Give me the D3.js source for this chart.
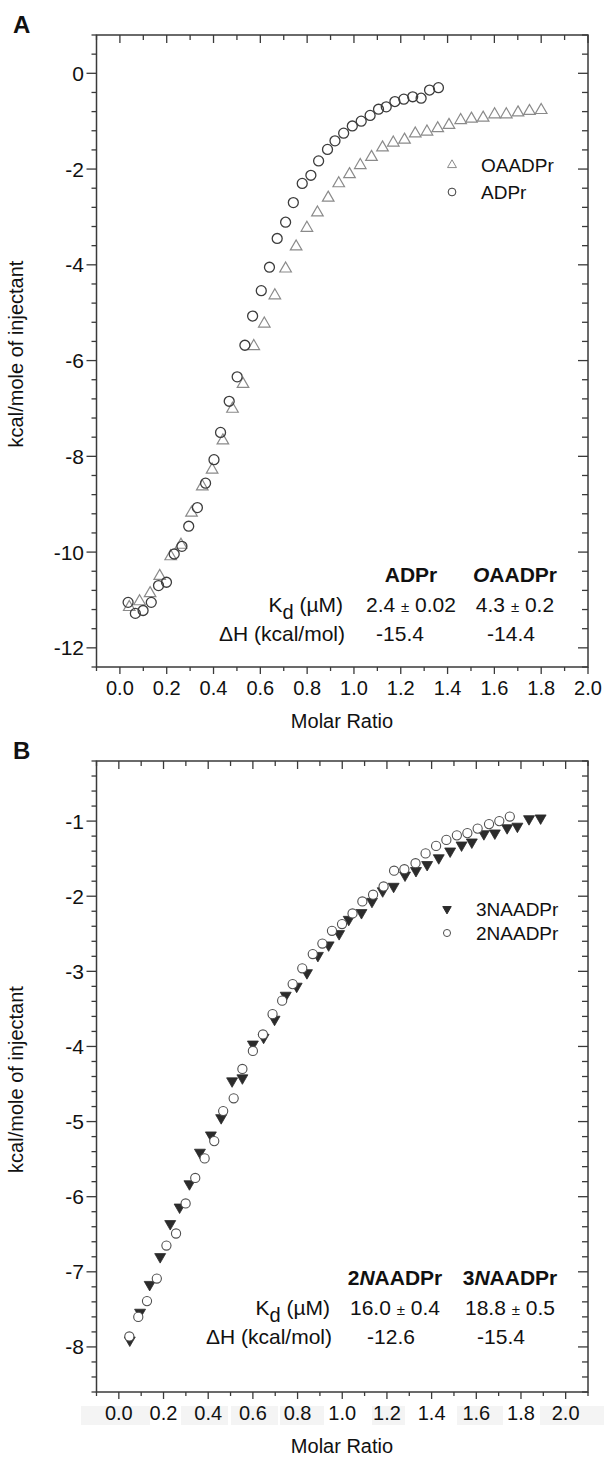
<!DOCTYPE html>
<html>
<head>
<meta charset="utf-8">
<script src="https://cdn.jsdelivr.net/npm/d3@7"></script>
<style>
body { margin: 0; background: #fff; }
text { font-family: "Liberation Sans", Arial, sans-serif; fill: #111; }
</style>
</head>
<body>
<div id="chart"></div>
<script>
// panel A, ADPr (circles) and OAADPr (triangles): [molar ratio, kcal/mole]
const adpr = [
	[0.035, -11.05], [0.066, -11.28], [0.099, -11.22], [0.134, -11.05], [0.165, -10.70],
	[0.199, -10.63], [0.232, -10.04], [0.265, -9.88], [0.294, -9.46], [0.331, -9.07],
	[0.366, -8.56], [0.402, -8.07], [0.430, -7.50], [0.467, -6.85], [0.501, -6.34],
	[0.534, -5.68], [0.567, -5.07], [0.604, -4.54], [0.639, -4.05], [0.672, -3.45],
	[0.708, -3.11], [0.741, -2.70], [0.779, -2.30], [0.816, -2.13], [0.849, -1.83],
	[0.887, -1.59], [0.919, -1.41], [0.956, -1.25], [0.993, -1.10], [1.031, -1.00],
	[1.069, -0.88], [1.105, -0.75], [1.138, -0.70], [1.175, -0.59], [1.213, -0.54],
	[1.251, -0.49], [1.287, -0.52], [1.323, -0.35], [1.361, -0.30]
];
const oaadpr = [
	[0.040, -11.15], [0.084, -11.03], [0.129, -10.86], [0.170, -10.50], [0.217, -10.09],
	[0.261, -9.85], [0.306, -9.18], [0.352, -8.63], [0.394, -8.28], [0.440, -7.67],
	[0.481, -7.01], [0.526, -6.49], [0.572, -5.70], [0.617, -5.23], [0.662, -4.64],
	[0.708, -4.08], [0.753, -3.62], [0.799, -3.23], [0.844, -2.91], [0.890, -2.60],
	[0.935, -2.30], [0.981, -2.11], [1.027, -1.92], [1.075, -1.75], [1.122, -1.55],
	[1.168, -1.45], [1.216, -1.39], [1.262, -1.26], [1.312, -1.22], [1.358, -1.15],
	[1.406, -1.08], [1.456, -0.98], [1.502, -0.95], [1.552, -0.93], [1.601, -0.86],
	[1.651, -0.86], [1.701, -0.82], [1.750, -0.79], [1.800, -0.77]
];

// panel B, 3NAADPr (filled down triangles) and 2NAADPr (circles)
const naadpr3 = [
	[0.049, -7.91], [0.095, -7.54], [0.138, -7.17], [0.185, -6.80], [0.230, -6.36],
	[0.272, -6.14], [0.316, -5.83], [0.363, -5.41], [0.412, -5.18], [0.458, -4.95],
	[0.507, -4.46], [0.553, -4.42], [0.600, -3.97], [0.648, -3.88], [0.697, -3.64],
	[0.747, -3.32], [0.796, -3.20], [0.842, -3.02], [0.891, -2.79], [0.939, -2.65],
	[0.986, -2.50], [1.029, -2.31], [1.086, -2.22], [1.133, -2.07], [1.181, -1.93],
	[1.230, -1.87], [1.281, -1.72], [1.330, -1.66], [1.380, -1.58], [1.432, -1.49],
	[1.483, -1.40], [1.534, -1.32], [1.580, -1.28], [1.634, -1.17], [1.683, -1.16],
	[1.738, -1.09], [1.784, -1.07], [1.836, -0.97], [1.888, -0.96]
];
const naadpr2 = [
	[0.047, -7.86], [0.087, -7.60], [0.126, -7.39], [0.170, -7.09], [0.213, -6.65],
	[0.256, -6.49], [0.299, -6.09], [0.342, -5.75], [0.384, -5.49], [0.427, -5.26],
	[0.467, -4.86], [0.514, -4.69], [0.553, -4.30], [0.600, -4.06], [0.645, -3.84],
	[0.688, -3.57], [0.731, -3.39], [0.778, -3.17], [0.821, -2.96], [0.868, -2.77],
	[0.911, -2.63], [0.954, -2.46], [0.999, -2.37], [1.046, -2.23], [1.090, -2.07],
	[1.138, -1.98], [1.185, -1.87], [1.232, -1.66], [1.278, -1.64], [1.328, -1.56],
	[1.373, -1.43], [1.420, -1.33], [1.466, -1.25], [1.513, -1.19], [1.560, -1.16],
	[1.606, -1.10], [1.657, -1.04], [1.703, -1.00], [1.750, -0.94]
];

const molarTicks = [0, 0.2, 0.4, 0.6, 0.8, 1.0, 1.2, 1.4, 1.6, 1.8, 2.0];
const yTicksA = [0, -2, -4, -6, -8, -10, -12];
const yTicksB = [-1, -2, -3, -4, -5, -6, -7, -8];

const tableA = {
	heads: [['', 'ADPr'], ['O', 'AADPr']],
	kd: ['2.4', '0.02', '4.3', '0.2'],
	dh: ['-15.4', '-14.4']
};
const tableB = {
	heads: [['2', 'N', 'AADPr'], ['3', 'N', 'AADPr']],
	kd: ['16.0', '0.4', '18.8', '0.5'],
	dh: ['-12.6', '-15.4']
};

const svg = d3.select('#chart')
	.append('svg')
	.attr('width', 605)
	.attr('height', 1457)
	.style('background', 'white');

const axisColor = '#3a3a3a';

function steps(lo, hi, step) {
	let n = Math.round((hi - lo) / step);
	return d3.range(n + 1).map(i => +(lo + i * step).toFixed(3));
}

function drawPanel(opt) {
	let x = d3.scaleLinear().domain(opt.xDomain).range([96.5, 588]);
	let y = d3.scaleLinear().domain(opt.yDomain).range([opt.bottom, opt.top]);
	let g = svg.append('g');

	// light scan blocks behind the tick labels (panel B only)
	if (opt.bands) {
		opt.bands.forEach(b => {
			g.append('rect')
				.attr('x', b[0]).attr('y', opt.bottom + 14)
				.attr('width', b[1] - b[0]).attr('height', 19)
				.attr('fill', '#f4f4f4');
		});
	}

	// x ticks, every 0.1, longer at 0.2
	let xt = steps(opt.xDomain[0], opt.xDomain[1], 0.1);
	xt.forEach(v => {
		let major = Math.round(v * 10) % 2 == 0;
		let px = x(v);
		g.append('line')
			.attr('x1', px).attr('x2', px)
			.attr('y1', opt.bottom).attr('y2', opt.bottom + (major ? 7 : 4))
			.attr('stroke', axisColor).attr('stroke-width', 1.3);
		g.append('line')
			.attr('x1', px).attr('x2', px)
			.attr('y1', opt.top).attr('y2', opt.top + (major ? 8 : 5))
			.attr('stroke', axisColor).attr('stroke-width', 1.3);
	});
	molarTicks.forEach(v => {
		g.append('text')
			.attr('x', x(v))
			.attr('y', opt.bottom + 28)
			.attr('text-anchor', 'middle')
			.style('font-size', '20px')
			.text(d3.format('.1f')(v));
	});

	// y ticks
	let yt = steps(opt.yDomain[0], opt.yDomain[1], opt.yMinor);
	yt.forEach(v => {
		let major = opt.yTicks.some(t => Math.abs(t - v) < 1e-6);
		let py = y(v);
		g.append('line')
			.attr('x1', 96.5 - (major ? 10 : 5)).attr('x2', 96.5)
			.attr('y1', py).attr('y2', py)
			.attr('stroke', axisColor).attr('stroke-width', 1.3);
		g.append('line')
			.attr('x1', 588 - (major ? 10 : 6)).attr('x2', 588)
			.attr('y1', py).attr('y2', py)
			.attr('stroke', axisColor).attr('stroke-width', 1.3);
	});
	opt.yTicks.forEach(v => {
		g.append('text')
			.attr('x', 84)
			.attr('y', y(v))
			.attr('dy', '0.36em')
			.attr('text-anchor', 'end')
			.style('font-size', '21px')
			.text(d3.format('d')(v).replace('−', '-'));
	});

	// frame
	g.append('rect')
		.attr('x', 96.5).attr('y', opt.top)
		.attr('width', 588 - 96.5).attr('height', opt.bottom - opt.top)
		.attr('fill', 'none')
		.attr('stroke', axisColor)
		.attr('stroke-width', 1.5);

	// titles
	g.append('text')
		.attr('x', 13).attr('y', opt.top - 2)
		.style('font-size', '24px')
		.style('font-weight', 'bold')
		.text(opt.letter);

	g.append('text')
		.attr('transform', `translate(23,${(opt.top + opt.bottom) / 2 + 3}) rotate(-90)`)
		.attr('text-anchor', 'middle')
		.style('font-size', '20px')
		.text('kcal/mole of injectant');

	g.append('text')
		.attr('x', 342)
		.attr('y', opt.bottom + 61)
		.attr('text-anchor', 'middle')
		.style('font-size', '20px')
		.text('Molar Ratio');

	// series, first one underneath
	opt.series.forEach(s => {
		g.selectAll(null)
			.data(s.data)
			.enter()
			.append('path')
			.attr('d', d3.symbol().type(s.shape).size(s.size))
			.attr('transform', d => `translate(${x(d[0])},${y(d[1])})` + (s.down ? ' rotate(180)' : ''))
			.attr('fill', s.fill)
			.attr('stroke', s.stroke)
			.attr('stroke-width', s.width);

		// legend
		g.append('path')
			.attr('d', d3.symbol().type(s.shape).size(s.size * 0.6))
			.attr('transform', `translate(${opt.legendX},${s.ly})` + (s.down ? ' rotate(180)' : ''))
			.attr('fill', s.fill)
			.attr('stroke', s.stroke)
			.attr('stroke-width', 1);
		g.append('text')
			.attr('x', opt.legendX + 29)
			.attr('y', s.ly + 7)
			.style('font-size', '19px')
			.text(s.name);
	});

	// binding table
	let t = opt.table;
	let tb = opt.tableY;
	t.heads.forEach((h, i) => {
		let txt = g.append('text')
			.attr('x', opt.cols[i])
			.attr('y', tb)
			.attr('text-anchor', 'middle')
			.style('font-size', '21px')
			.style('font-weight', 'bold');
		h.forEach((part, j) => {
			if (!part) return;
			txt.append('tspan')
				.style('font-style', part == 'N' || part == 'O' ? 'italic' : 'normal')
				.text(part);
		});
	});

	let kd = g.append('text')
		.attr('x', opt.labelX)
		.attr('y', tb + 30)
		.attr('text-anchor', 'end')
		.style('font-size', '21px');
	kd.append('tspan').text('K');
	kd.append('tspan').attr('dy', 7).style('font-size', '20px').text('d');
	kd.append('tspan').attr('dy', -7).text(' (\u00b5M)');

	[0, 1].forEach(i => {
		let v = g.append('text')
			.attr('x', opt.cols[i])
			.attr('y', tb + 30)
			.attr('text-anchor', 'middle')
			.style('font-size', '21px');
		v.append('tspan').text(t.kd[i * 2] + ' ');
		v.append('tspan').style('font-size', '15px').text('\u00b1');
		v.append('tspan').text(' ' + t.kd[i * 2 + 1]);

		g.append('text')
			.attr('x', opt.dhCols[i])
			.attr('y', tb + 59)
			.attr('text-anchor', 'middle')
			.style('font-size', '21px')
			.text(t.dh[i]);
	});

	g.append('text')
		.attr('x', opt.labelX + 2)
		.attr('y', tb + 59)
		.attr('text-anchor', 'end')
		.style('font-size', '21px')
		.text('\u0394H (kcal/mol)');
}

drawPanel({
	letter: 'A',
	top: 35, bottom: 667,
	xDomain: [-0.1, 2.0],
	yDomain: [-12.4, 0.8],
	yMinor: 0.4,
	yTicks: yTicksA,
	legendX: 452,
	series: [
		{name: 'OAADPr', data: oaadpr, shape: d3.symbolTriangle, size: 58, fill: 'none', stroke: '#8a8a8a', width: 1.2, ly: 165},
		{name: 'ADPr', data: adpr, shape: d3.symbolCircle, size: 78, fill: 'none', stroke: '#3c3c3c', width: 1.3, ly: 192}
	],
	table: tableA,
	tableY: 582,
	cols: [411, 515],
	dhCols: [400, 511],
	labelX: 343
});

drawPanel({
	letter: 'B',
	top: 761, bottom: 1392,
	xDomain: [-0.1, 2.1],
	yDomain: [-8.6, -0.2],
	yMinor: 0.2,
	yTicks: yTicksB,
	legendX: 447,
	bands: [[81, 150], [181, 228], [231, 278], [280, 324], [372, 405], [457, 503], [540, 604]],
	series: [
		{name: '3NAADPr', data: naadpr3, shape: d3.symbolTriangle, size: 52, fill: '#2b2b2b', stroke: '#2b2b2b', width: 0.8, down: true, ly: 909},
		{name: '2NAADPr', data: naadpr2, shape: d3.symbolCircle, size: 66, fill: 'white', stroke: '#505050', width: 1.1, ly: 933}
	],
	table: tableB,
	tableY: 1285,
	cols: [395, 510],
	dhCols: [391, 501],
	labelX: 330
});
</script>
</body>
</html>
